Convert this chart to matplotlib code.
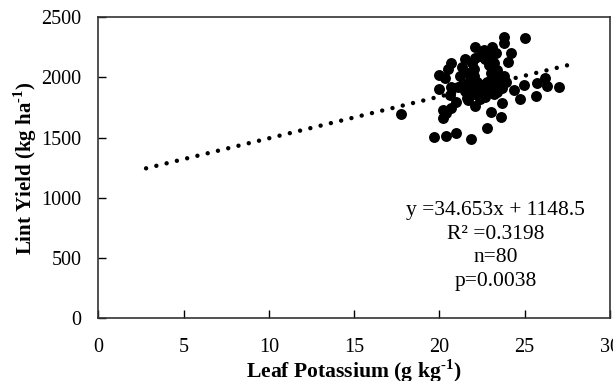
import numpy as np
import matplotlib
matplotlib.use('Agg')
import matplotlib.pyplot as plt

plt.rcParams['font.family'] = ['Liberation Serif', 'DejaVu Serif']
plt.rcParams['mathtext.fontset'] = 'custom'
plt.rcParams['mathtext.rm'] = 'Liberation Serif'
plt.rcParams['mathtext.bf'] = 'Liberation Serif:bold'
plt.rcParams['lines.scale_dashes'] = False

# leaf K (g/kg) vs lint yield (kg/ha), 80 plots
leaf_k = [23.8, 23.8, 25.0, 22.1, 22.7, 23.3, 24.2, 24.0, 21.5, 20.7,
          20.5, 20.0, 20.3, 20.0, 20.7, 20.6, 21.0, 17.75, 20.2, 20.7,
          20.4, 20.2, 19.7, 20.4, 21.0, 21.85, 22.8, 23.0, 23.6, 23.7,
          22.1, 21.65, 24.7, 24.4, 24.97, 25.65, 25.75, 26.2, 26.3, 27.0,
          23.7, 22.7,
          21.3, 21.2, 21.4, 21.5, 21.7, 21.8, 21.9, 21.9, 22.0, 22.1,
          22.2, 22.3, 22.4, 22.5, 22.6, 22.7, 22.8, 22.9, 22.9, 23.0,
          23.0, 23.1, 23.2, 23.3, 23.4, 23.5, 23.6, 23.8, 23.9, 22.0,
          21.6, 22.4, 23.2, 21.1, 22.6, 23.1, 22.0, 23.4]
lint_yield = [2339, 2289, 2325, 2256, 2214, 2200, 2200, 2126, 2151, 2123,
              2068, 2021, 1993, 1902, 1924, 1855, 1799, 1697, 1730, 1744,
              1703, 1661, 1503, 1514, 1542, 1487, 1578, 1716, 1670, 1791,
              1763, 1813, 1819, 1896, 1938, 1846, 1952, 1993, 1929, 1918,
              1910, 1840,
              2090, 2010, 1950, 1890, 2040, 1980, 2120, 1920, 1860, 2160,
              1960, 1900, 2180, 1940, 1880, 2150, 1960, 2100, 1900, 2040,
              2180, 1980, 2120, 1920, 2060, 1990, 1940, 2010, 1960, 2070,
              1830, 1820, 1860, 1920, 2230, 2250, 2010, 1880]

slope = 34.653
intercept = 1148.5
fit_x = [2.8, 27.6]
stats_lines = ['y =34.653x + 1148.5', 'R\u00b2 =0.3198', 'n=80', 'p=0.0038']

fig = plt.figure(figsize=(6.13, 3.81), dpi=100)
ax = fig.add_axes([0.1604, 0.1646, 0.8346, 0.79])

ax.scatter(leaf_k, lint_yield, s=62, color='black', zorder=3, linewidths=0)

# dotted trend line
fx = np.array(fit_x)
ax.plot(fx, slope * fx + intercept, color='black', lw=3.2,
        dashes=(0.01, 7.6), dash_capstyle='round', zorder=2)

ax.set_xlim(0, 30)
ax.set_ylim(0, 2500)
ax.set_xticks(range(0, 31, 5))
ax.set_yticks(range(0, 2501, 500))
ax.tick_params(direction='in', length=5.5, width=1, labelsize=14.5)
ax.tick_params(axis='x', pad=14)
ax.tick_params(axis='y', pad=12)
for sp in ax.spines.values():
    sp.set_linewidth(1.2)
    sp.set_color('#333333')

ax.set_xlabel(r'Leaf Potassium (g kg$^{\mathbf{\text{-}1}}$)', fontsize=15.6,
              fontweight='bold', labelpad=0.5)
ax.set_ylabel(r'Lint Yield (kg ha$^{\mathbf{\text{-}1}}$)', fontsize=15,
              fontweight='bold', labelpad=2)

ax.text(23.3, 975, '\n'.join(stats_lines), ha='center', va='top',
        fontsize=15.5, linespacing=1.33)

fig.savefig('out.png', dpi=100)
